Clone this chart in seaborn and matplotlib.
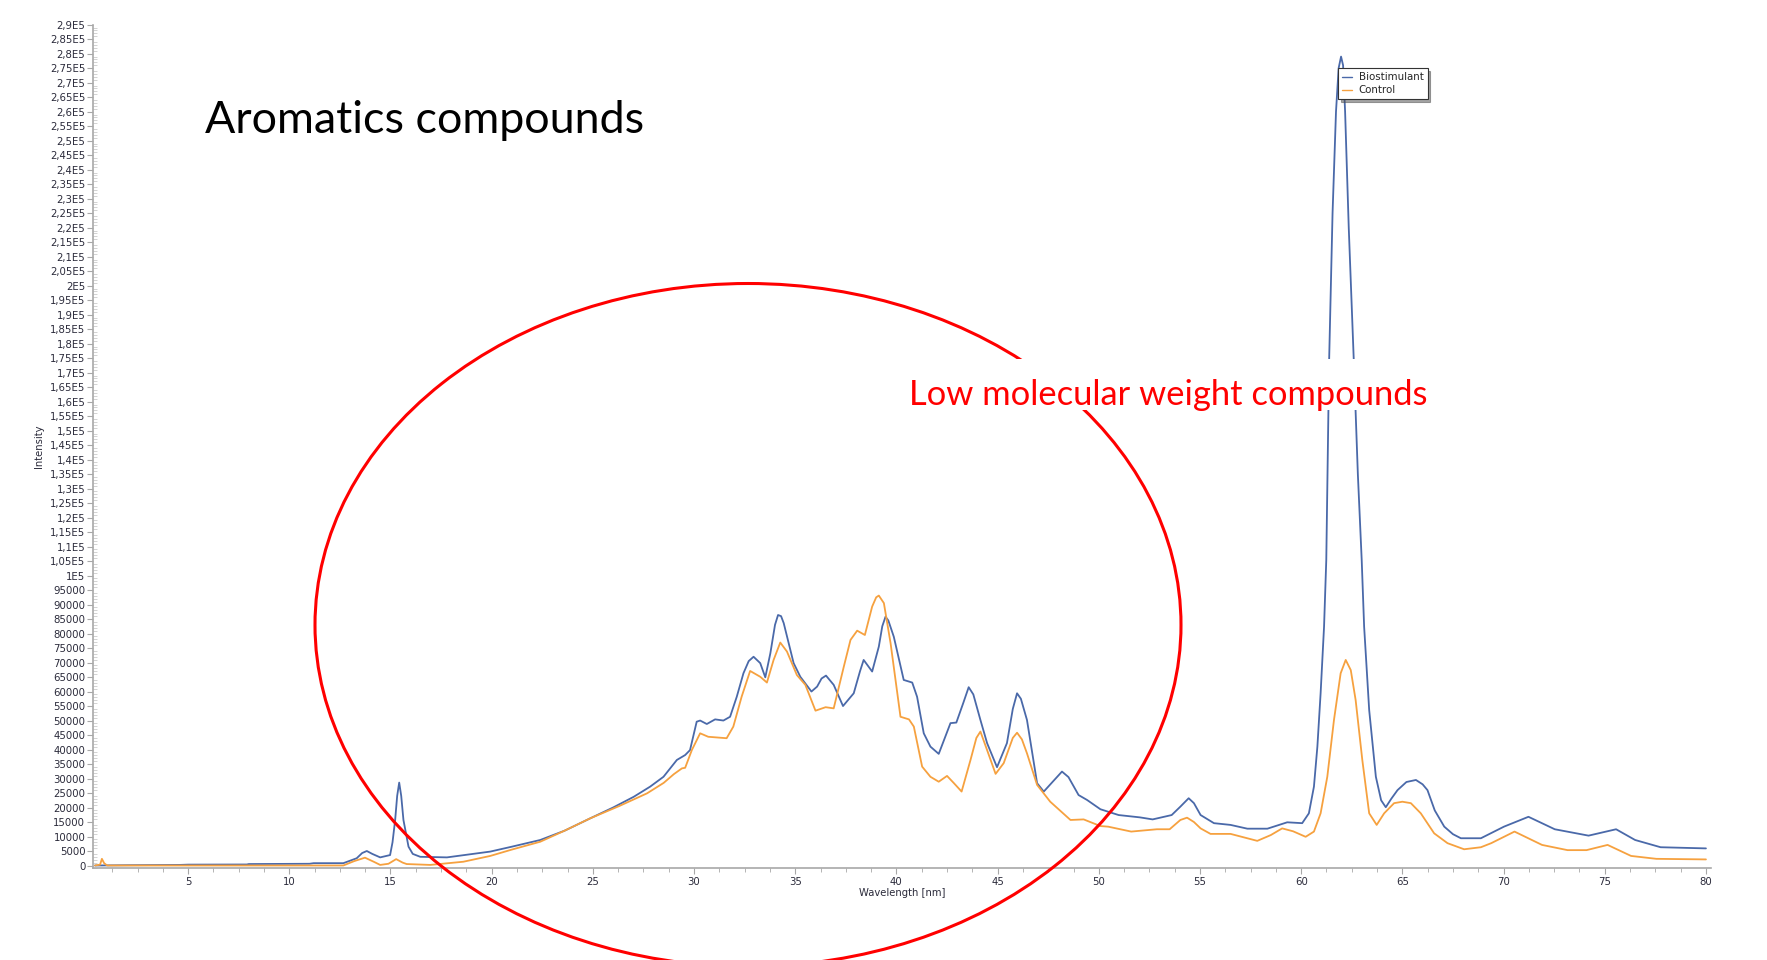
import numpy as np
import pandas as pd
import matplotlib
matplotlib.use("Agg")
import matplotlib.pyplot as plt
from matplotlib.patches import Ellipse, Rectangle
from matplotlib.ticker import FuncFormatter, MultipleLocator
import seaborn as sns

# ---------------- data ----------------
series_names = ["Biostimulant", "Control"]

bio_x = [0.4, 2.0, 4.6, 5.0, 7.9, 8.0, 11.0, 11.2, 12.67, 13.33, 13.6, 13.83, 14.1, 14.49, 14.98,
         15.1, 15.23, 15.33, 15.43, 15.53, 15.64, 15.89, 16.1, 16.47, 17.79, 19.93, 21.0, 22.4,
         23.6, 24.88, 26.0, 27.02, 27.83, 28.49, 29.15, 29.56, 29.8, 30.13, 30.3, 30.63, 31.04,
         31.45, 31.78, 32.11, 32.44, 32.7, 32.94, 33.27, 33.52, 33.77, 34.0, 34.15, 34.3, 34.43,
         34.92, 35.25, 35.8, 36.08, 36.3, 36.52, 36.9, 37.36, 37.89, 38.2, 38.38, 38.8, 39.13,
         39.3, 39.46, 39.6, 39.87, 40.36, 40.78, 41.02, 41.35, 41.68, 42.09, 42.67, 42.96, 43.3,
         43.57, 43.8, 44.15, 44.48, 44.97, 45.46, 45.75, 45.96, 46.15, 46.45, 46.95, 47.28, 47.8,
         48.18, 48.5, 49.0, 49.42, 50.08, 50.98, 52.03, 52.66, 53.6, 54.03, 54.44, 54.7, 55.03,
         55.69, 56.51, 57.34, 58.33, 58.9, 59.31, 60.05, 60.38, 60.63, 60.8, 60.96, 61.13, 61.24,
         61.38, 61.55, 61.72, 61.85, 61.97, 62.07, 62.17, 62.35, 62.6, 62.8, 62.99, 63.11, 63.36,
         63.69, 63.95, 64.18, 64.45, 64.76, 65.2, 65.67, 66.0, 66.24, 66.6, 67.07, 67.5, 67.89,
         68.88, 70.02, 71.23, 72.53, 74.2, 75.56, 76.5, 77.76, 80.0]
bio_y = [0, 100, 200, 300, 350, 500, 600, 800, 800, 2500, 4300, 5000, 4000, 2800, 3600,
         8000, 15700, 24000, 28600, 24000, 15700, 6500, 4000, 3000, 2800, 4800, 6500, 8800,
         12000, 16300, 20000, 23700, 27200, 30600, 36400, 38100, 39800, 49600, 50000, 48800, 50400,
         50000, 51300, 58200, 66300, 70500, 72000, 69800, 64900, 73200, 83000, 86400, 86000, 83600,
         69800, 65100, 60000, 61700, 64500, 65500, 62300, 55000, 59400, 67000, 70900, 66900, 75500,
         82500, 85800, 84500, 78900, 64000, 63100, 58200, 45600, 41000, 38500, 49100, 49300, 56000,
         61500, 59000, 50200, 42200, 33900, 42200, 54000, 59400, 57500, 50200, 28400, 25500, 29500,
         32400, 30500, 24300, 22600, 19400, 17400, 16600, 15900, 17400, 20300, 23200, 21500, 17400,
         14600, 14000, 12700, 12700, 14000, 14900, 14600, 18000, 27200, 41000, 59400, 82400, 105400,
         174000, 225000, 260000, 275000, 279000, 276000, 260000, 220000, 174000, 135000, 105400, 82400, 53600,
         30600, 22500, 20100, 23000, 26000, 28800, 29500, 28000, 26000, 19000, 13400, 10800, 9400,
         9400, 13400, 16800, 12500, 10300, 12500, 8800, 6300, 5900]

ctl_x = [0.4, 0.65, 0.74, 0.85, 1.0, 12.67, 13.2, 13.74, 14.2, 14.49, 14.9, 15.28, 15.6, 15.8,
         16.96, 18.6, 19.93, 21.0, 22.4, 23.6, 24.88, 26.3, 27.68, 28.5, 29.0, 29.4, 29.56, 29.89,
         30.3, 30.7, 31.61, 31.94, 32.35, 32.77, 33.27, 33.6, 33.93, 34.26, 34.59, 35.08, 35.5,
         36.0, 36.5, 36.9, 37.4, 37.73, 38.06, 38.44, 38.8, 39.0, 39.13, 39.38, 39.71, 40.2, 40.62,
         40.86, 41.27, 41.68, 42.09, 42.5, 42.84, 43.22, 43.66, 43.95, 44.15, 44.48, 44.9, 45.3,
         45.75, 45.96, 46.2, 46.45, 46.95, 47.6, 48.6, 49.25, 50.08, 50.46, 51.6, 52.87, 53.5,
         54.03, 54.36, 54.7, 55.03, 55.52, 56.51, 57.83, 58.5, 59.06, 59.6, 60.22, 60.63, 60.96,
         61.29, 61.62, 61.95, 62.2, 62.45, 62.69, 63.02, 63.36, 63.73, 64.1, 64.59, 65.0, 65.42,
         65.91, 66.57, 67.23, 68.05, 68.88, 69.39, 70.54, 71.9, 73.16, 74.1, 75.14, 76.3, 77.55,
         80.0]
ctl_y = [0, 300, 2300, 800, 0, 0, 1500, 2700, 1200, 200, 600, 2200, 1000, 500,
         200, 1300, 3300, 5500, 8200, 12000, 16300, 20500, 24900, 28500, 31500, 33500, 33700, 39800,
         45600, 44400, 43900, 47900, 58200, 67100, 65100, 63100, 70900, 76900, 73800, 65700, 62300,
         53400, 54600, 54200, 68600, 77800, 81000, 79500, 89300, 92500, 93100, 90500, 76700, 51300, 50400,
         47900, 34100, 30600, 28900, 30900, 28400, 25500, 36400, 44000, 46200, 39800, 31600, 35300,
         44000, 45800, 43500, 38700, 27800, 22000, 15700, 15900, 13600, 13400, 11700, 12500, 12500,
         15700, 16500, 15000, 12800, 10900, 10900, 8500, 10500, 12800, 11800, 9900, 11700, 18000,
         30600, 50200, 66300, 70900, 67400, 57100, 36400, 18000, 14000, 18000, 21500, 22000, 21500,
         18000, 11100, 7700, 5600, 6300, 7700, 11700, 7100, 5300, 5300, 7100, 3300, 2300,
         2100]

y_tick_values = list(range(0, 290001, 5000))
x_tick_values = list(range(5, 81, 5))

title_text = "Aromatics compounds"
note_text = "Low molecular weight compounds"

# ---------------- build table ----------------
df = pd.concat([
    pd.DataFrame({"Wavelength [nm]": bio_x, "Intensity": bio_y, "Series": series_names[0]}),
    pd.DataFrame({"Wavelength [nm]": ctl_x, "Intensity": ctl_y, "Series": series_names[1]}),
], ignore_index=True)

sns.set_theme(style="white")
plt.rcParams["font.family"] = ["DejaVu Sans"]

W, H = 1767, 960
fig = plt.figure(figsize=(W / 100, H / 100), dpi=100)
ax = fig.add_axes([93 / W, 1 - 868.4 / H, (1711 - 93) / W, (868.4 - 24.7) / H])

palette = {"Biostimulant": "#4a69a9", "Control": "#f6a13f"}
sns.lineplot(data=df, x="Wavelength [nm]", y="Intensity", hue="Series",
             hue_order=series_names, palette=palette, estimator=None,
             linewidth=1.3, ax=ax, legend=True)

ax.set_xlim(0.3, 80.25)
ax.set_ylim(-1000, 290000)

def yfmt(v, pos):
    v = int(round(v))
    if v < 100000:
        return f"{v}"
    s = f"{v / 1e5:.2f}".rstrip("0").rstrip(".")
    return s.replace(".", ",") + "E5"

ax.set_yticks(y_tick_values)
ax.yaxis.set_major_formatter(FuncFormatter(yfmt))
ax.yaxis.set_minor_locator(MultipleLocator(1000))
ax.set_xticks(x_tick_values)
ax.xaxis.set_minor_locator(MultipleLocator(1.25))

tick_col = "#a8a8a8"
ax.tick_params(axis="y", which="major", direction="out", length=4, width=0.8,
               color=tick_col, labelsize=7.3, labelcolor="#2a2a3a", pad=1.5, left=True)
ax.tick_params(axis="y", which="minor", direction="in", length=3, width=0.5,
               color="#c0c0c0", left=True)
ax.tick_params(axis="x", which="major", direction="out", length=4, width=0.8,
               color=tick_col, labelsize=7.3, labelcolor="#2a2a3a", pad=2, bottom=True)
ax.tick_params(axis="x", which="minor", direction="out", length=3, width=0.6,
               color=tick_col, bottom=True)

for s in ["top", "right"]:
    ax.spines[s].set_visible(False)
for s in ["left", "bottom"]:
    ax.spines[s].set_color(tick_col)
    ax.spines[s].set_linewidth(1.2)

ax.set_xlabel("Wavelength [nm]", fontsize=7.2, color="#2a2a3a", labelpad=1)
ax.set_ylabel("Intensity", fontsize=7.2, color="#2a2a3a", labelpad=4)
ax.grid(False)

handles, labels = ax.get_legend_handles_labels()
leg = ax.legend(handles, labels, loc="upper left",
                bbox_to_anchor=(1338 / W, 1 - 68 / H), bbox_transform=fig.transFigure,
                fontsize=7.4, frameon=True, fancybox=False, shadow=True,
                edgecolor="#333333", handlelength=1.0, handletextpad=0.6,
                borderpad=0.4, labelspacing=0.3, borderaxespad=0)
leg.get_frame().set_linewidth(0.8)
for lh in leg.get_lines():
    lh.set_linewidth(1.0)

# red ellipse annotation
ell = Ellipse((748 / W, 1 - 625 / H), width=866 / W, height=683 / H,
              transform=fig.transFigure, fill=False, edgecolor="#ff0000",
              linewidth=2.2, zorder=5)
fig.add_artist(ell)

# white text box behind the red note
box = Rectangle((900 / W, 1 - 410 / H), (1436 - 900) / W, (410 - 359) / H,
                transform=fig.transFigure, facecolor="white", edgecolor="none", zorder=6)
fig.add_artist(box)

fig.text(205 / W, 1 - 133 / H, title_text, fontsize=32.3, family=["Lato", "DejaVu Sans"],
         color="black", ha="left", va="baseline", zorder=7)
fig.text(909 / W, 1 - 405 / H, note_text, fontsize=24.8, family=["Lato", "DejaVu Sans"],
         color="#ff0000", ha="left", va="baseline", zorder=8)

fig.savefig("out.png", dpi=100)
